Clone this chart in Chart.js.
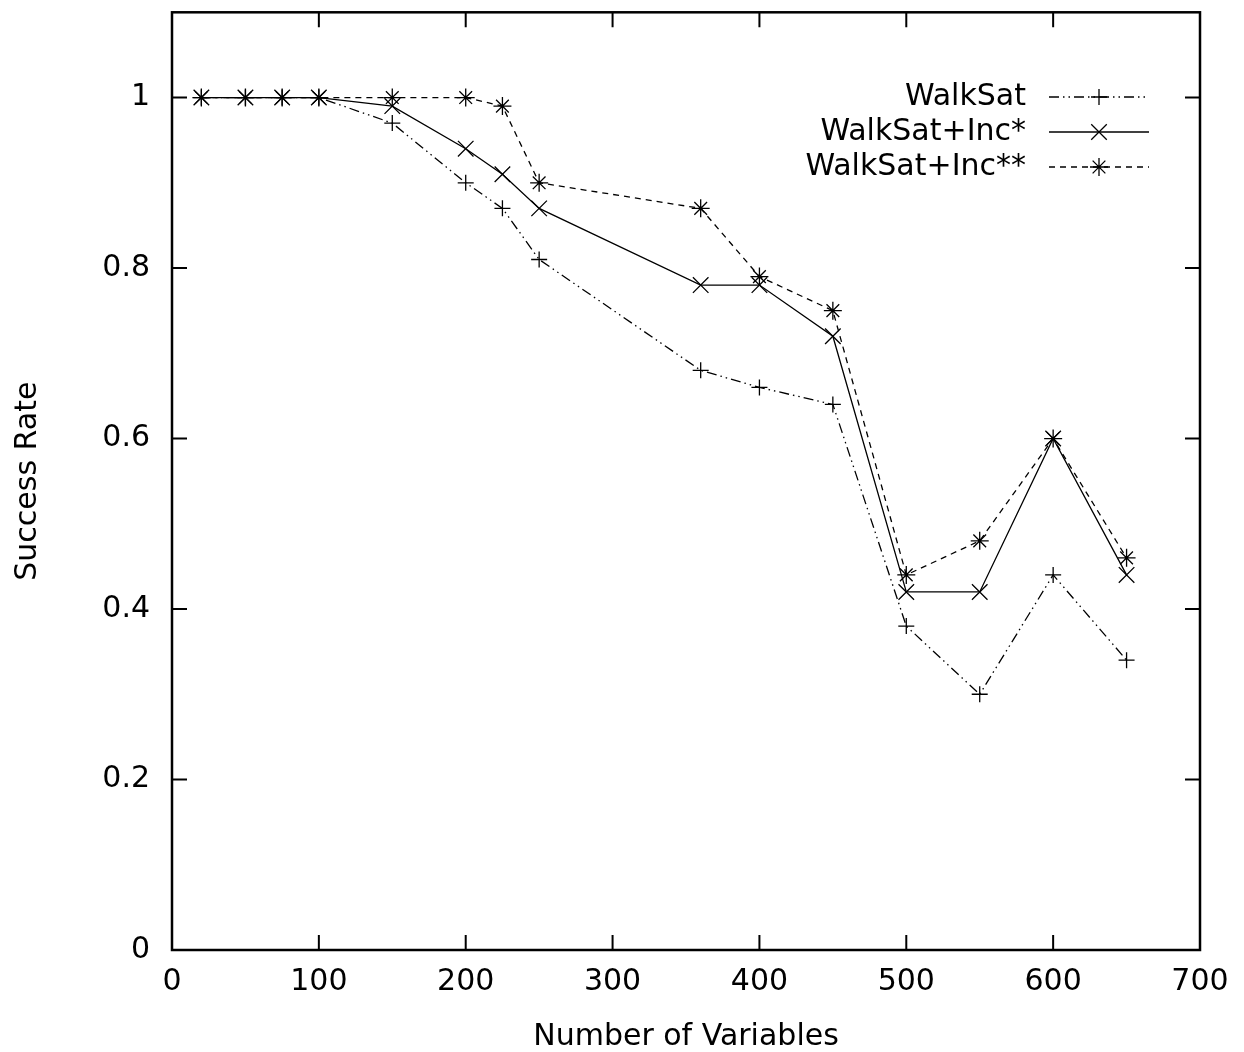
<!DOCTYPE html>
<html>
<head>
<meta charset="utf-8">
<script src="https://cdn.jsdelivr.net/npm/chart.js@4.4.1/dist/chart.umd.min.js"></script>
<style>
  html, body { margin: 0; padding: 0; background: #fff; }
  #wrap { width: 1244px; height: 1052px; position: relative; }
</style>
</head>
<body>
<div id="wrap"><canvas id="c"></canvas></div>
<script>
const variables = [20, 50, 75, 100, 150, 200, 225, 250, 360, 400, 450, 500, 550, 600, 650];
const walkSat = [1, 1, 1, 1, 0.97, 0.90, 0.87, 0.81, 0.68, 0.66, 0.64, 0.38, 0.30, 0.44, 0.34];
const walkSatInc1 = [1, 1, 1, 1, 0.99, 0.94, 0.91, 0.87, 0.78, 0.78, 0.72, 0.42, 0.42, 0.60, 0.44];
const walkSatInc2 = [1, 1, 1, 1, 1, 1, 0.99, 0.90, 0.87, 0.79, 0.75, 0.44, 0.48, 0.60, 0.46];
const seriesNames = ['WalkSat', 'WalkSat+Inc*', 'WalkSat+Inc**'];
const xTicks = [0, 100, 200, 300, 400, 500, 600, 700];
const yTicks = [0, 0.2, 0.4, 0.6, 0.8, 1];

const FONT = { family: '"DejaVu Sans", "Liberation Sans", Arial, sans-serif', size: 30 };

function pts(ys) { return variables.map((x, i) => ({ x: x, y: ys[i] })); }

const styles = [
  { dash: [10, 4, 1.5, 4, 1.5, 4], point: 'cross', radius: 8 },
  { dash: [], point: 'crossRot', radius: 11 },
  { dash: [6, 5], point: 'star', radius: 9 }
];
const values = [walkSat, walkSatInc1, walkSatInc2];

const datasets = values.map((v, i) => ({
  label: seriesNames[i],
  data: pts(v),
  borderColor: '#000',
  backgroundColor: '#000',
  borderWidth: 1.3,
  borderDash: styles[i].dash,
  pointStyle: styles[i].point,
  pointRadius: styles[i].radius,
  pointBorderWidth: 1.3,
  pointBorderColor: '#000',
  pointHoverRadius: styles[i].radius,
  tension: 0,
  fill: false
}));

const framePlugin = {
  id: 'frame',
  afterDatasetsDraw(c) {
    const ctx = c.ctx;
    const { left, right, top, bottom } = c.chartArea;
    const xs = c.scales.x, ys = c.scales.y;
    const L = 15;
    ctx.save();
    ctx.setLineDash([]);
    ctx.strokeStyle = '#000';
    ctx.lineWidth = 2.5;
    ctx.strokeRect(left, top, right - left, bottom - top);
    ctx.lineWidth = 2;
    ctx.beginPath();
    xs.ticks.forEach(t => {
      const p = xs.getPixelForValue(t.value);
      if (p <= left + 1 || p >= right - 1) return;
      ctx.moveTo(p, bottom); ctx.lineTo(p, bottom - L);
      ctx.moveTo(p, top); ctx.lineTo(p, top + L);
    });
    ys.ticks.forEach(t => {
      const p = ys.getPixelForValue(t.value);
      if (p >= bottom - 1 || p <= top + 1) return;
      ctx.moveTo(left, p); ctx.lineTo(left + L, p);
      ctx.moveTo(right, p); ctx.lineTo(right - L, p);
    });
    ctx.stroke();
    ctx.restore();
  }
};

const legendPlugin = {
  id: 'gpLegend',
  afterDraw(c) {
    const ctx = c.ctx;
    const rows = [97, 132, 167];
    const textX = 1026, x0 = 1049, x1 = 1149, mx = 1099;
    ctx.save();
    ctx.font = FONT.size + 'px ' + FONT.family;
    ctx.fillStyle = '#000';
    ctx.textAlign = 'right';
    ctx.textBaseline = 'middle';
    c.data.datasets.forEach((ds, i) => {
      const y = rows[i];
      ctx.fillText(ds.label, textX, y);
      ctx.strokeStyle = '#000';
      ctx.lineWidth = 1.3;
      ctx.setLineDash(ds.borderDash || []);
      ctx.beginPath();
      ctx.moveTo(x0, y); ctx.lineTo(x1, y);
      ctx.stroke();
      ctx.setLineDash([]);
      if (Chart.helpers && Chart.helpers.drawPoint) {
        Chart.helpers.drawPoint(ctx, { pointStyle: ds.pointStyle, radius: ds.pointRadius, rotation: 0, borderWidth: 1.3 }, mx, y);
      }
    });
    ctx.restore();
  }
};

function zeroPad(s) { s.paddingTop = 0; s.paddingBottom = 0; s.paddingLeft = 0; s.paddingRight = 0; }

new Chart(document.getElementById('c'), {
  type: 'line',
  data: { datasets: datasets },
  plugins: [framePlugin, legendPlugin],
  options: {
    responsive: true,
    maintainAspectRatio: false,
    devicePixelRatio: 1,
    animation: false,
    layout: { padding: { left: 0, right: 44, top: 10, bottom: 0 } },
    plugins: { legend: { display: false }, tooltip: { enabled: false } },
    events: [],
    scales: {
      x: {
        type: 'linear',
        min: 0, max: 700,
        afterBuildTicks: s => { s.ticks = xTicks.map(v => ({ value: v })); },
        afterFit: s => { s.height = 102; zeroPad(s); },
        grid: { display: false, drawTicks: false },
        border: { display: false },
        ticks: { color: '#000', font: FONT, padding: 14, maxRotation: 0, autoSkip: false,
                 callback: v => String(v) },
        title: { display: true, text: 'Number of Variables', color: '#000',
                 font: Object.assign({}, FONT, { lineHeight: 1.0 }), padding: { top: 0, bottom: 0 } }
      },
      y: {
        type: 'linear',
        min: 0, max: 1.1,
        afterBuildTicks: s => { s.ticks = yTicks.map(v => ({ value: v })); },
        afterFit: s => { s.width = 172; zeroPad(s); },
        grid: { display: false, drawTicks: false },
        border: { display: false },
        ticks: { color: '#000', font: FONT, padding: 22, autoSkip: false,
                 callback: v => String(+Number(v).toFixed(1)) },
        title: { display: true, text: 'Success Rate', color: '#000',
                 font: Object.assign({}, FONT, { lineHeight: 1.0 }), padding: { top: 13, bottom: 0 } }
      }
    }
  }
});
</script>
</body>
</html>
